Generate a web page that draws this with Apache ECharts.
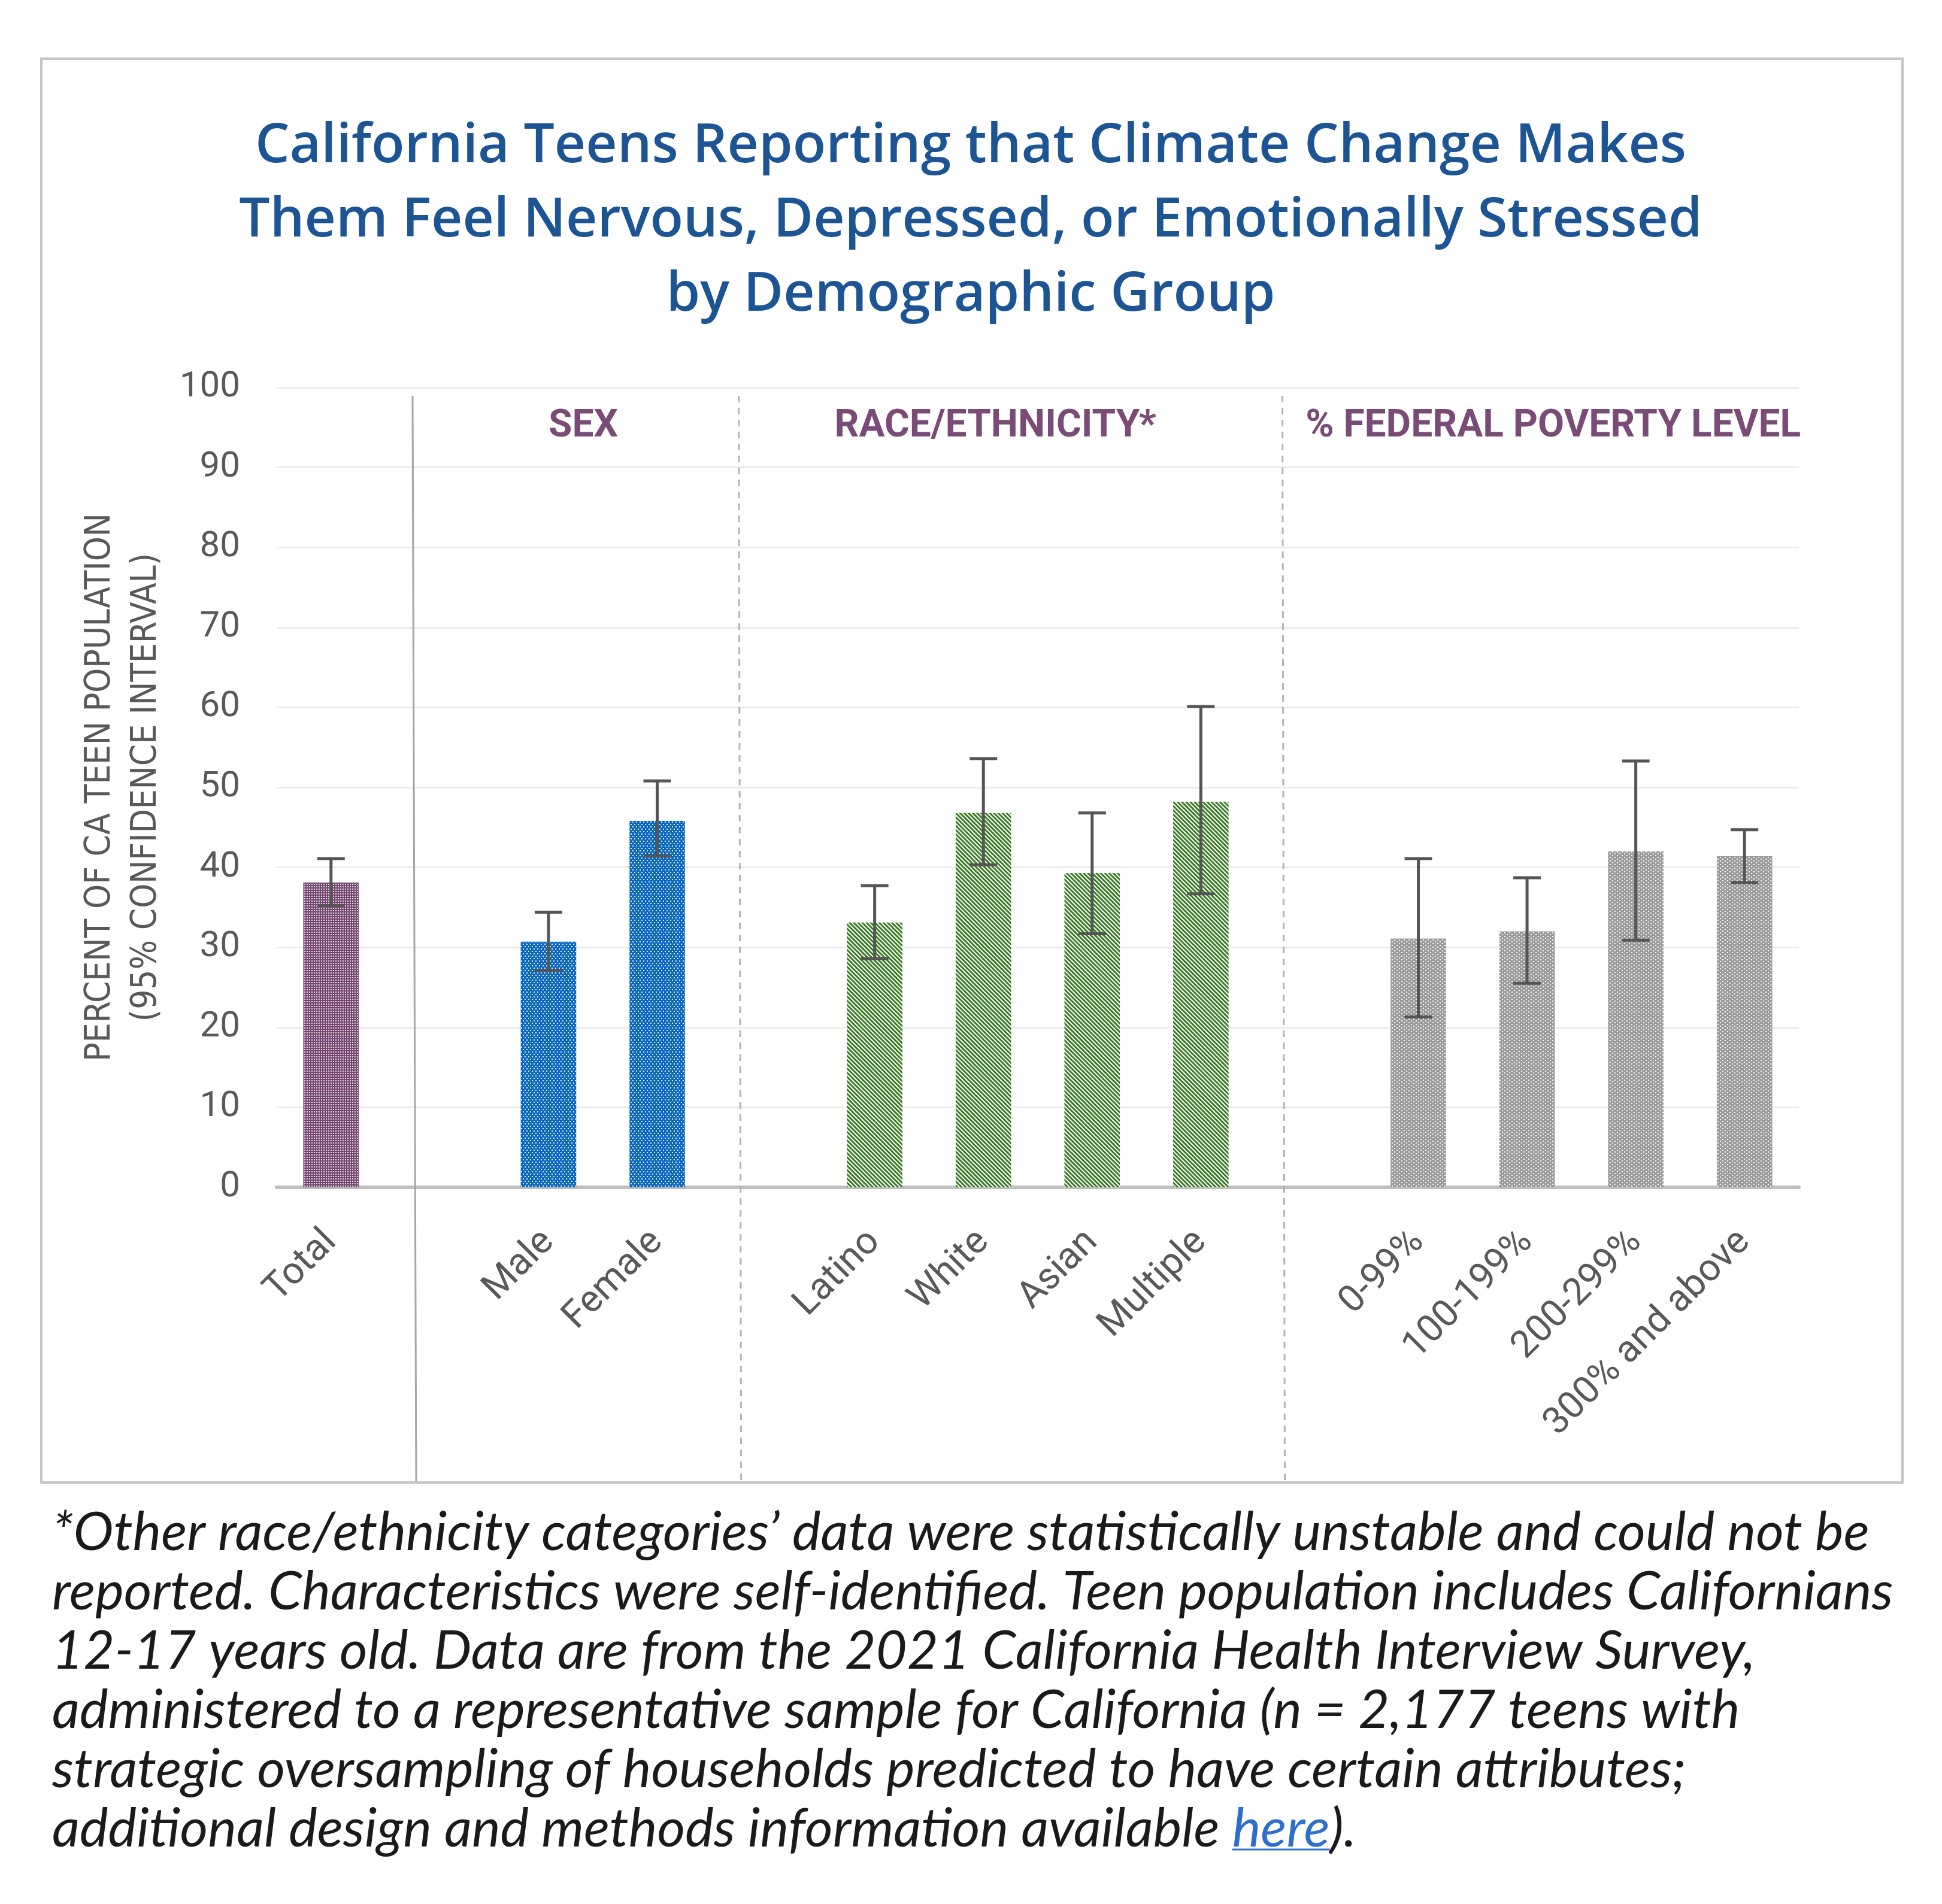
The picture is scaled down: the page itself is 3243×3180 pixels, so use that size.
<!DOCTYPE html>
<html>
<head>
    <meta charset="utf-8">
    <title>California Teens Reporting that Climate Change Makes Them Feel Nervous</title>
    <script src="https://cdn.jsdelivr.net/npm/echarts@6/dist/echarts.min.js"></script>
    <style>
        html, body { margin: 0; padding: 0; background: #fff; }
        #main { width: 3243px; height: 3180px; }
    </style>
</head>
<body>
<div id="main"></div>
<script>
// ---- data ----
var categories = ['Total', ' ', 'Male', 'Female', '  ', 'Latino', 'White', 'Asian', 'Multiple', '   ',
                  '0-99%', '100-199%', '200-299%', '300% and above'];
var groups     = ['total', null, 'sex', 'sex', null, 'race', 'race', 'race', 'race', null,
                  'fpl', 'fpl', 'fpl', 'fpl'];
var values     = [38.1, null, 30.7, 45.8, null, 33.1, 46.8, 39.3, 48.2, null, 31.1, 32.0, 42.0, 41.4];
var ciLow      = [35.2, null, 27.1, 41.4, null, 28.6, 40.3, 31.7, 36.7, null, 21.3, 25.5, 30.9, 38.1];
var ciHigh     = [41.1, null, 34.4, 50.8, null, 37.7, 53.6, 46.8, 60.1, null, 41.1, 38.7, 53.3, 44.7];

// section headers (label, centre position in category units)
var sectionNames = ['SEX', 'RACE/ETHNICITY*', '% FEDERAL POVERTY LEVEL'];
var sectionPos   = [2.32, 6.11, 11.24];
// separators between sections (category units), first one solid
var separatorPos = [0.75, 3.75, 8.75];

var titleLines = [
    'California Teens Reporting that Climate Change Makes',
    'Them Feel Nervous, Depressed, or Emotionally Stressed',
    'by Demographic Group'
];
var noteLines = [
    '*Other race/ethnicity categories\u2019 data were statistically unstable and could not be',
    'reported. Characteristics were self-identified. Teen population includes Californians',
    '12-17 years old. Data are from the 2021 California Health Interview Survey,',
    'administered to a representative sample for California (n = 2,177 teens with',
    'strategic oversampling of households predicted to have certain attributes;',
    'additional design and methods information available '
];

// ---- styles ----
var fills = {
    total: { color: '#74466f', decal: { symbol: 'rect', symbolSize: 1, color: 'rgba(255,255,255,0.8)',
                                        dashArrayX: [2, 2], dashArrayY: [2, 2] } },
    sex:   { color: '#0b68bc', decal: { symbol: 'rect', symbolSize: 1, color: 'rgba(255,255,255,0.9)',
                                        dashArrayX: [[2, 4], [0, 3, 2, 1]], dashArrayY: [2, 2] } },
    race:  { color: '#ffffff', decal: { symbol: 'rect', symbolSize: 1, color: '#3a7a25',
                                        dashArrayX: [1, 0], dashArrayY: [3, 2], rotation: Math.PI / 4 } },
    fpl:   { color: '#9b9b9b', decal: { symbol: 'rect', symbolSize: 1, color: 'rgba(255,255,255,0.95)',
                                        dashArrayX: [[2, 6], [0, 4, 2, 2]], dashArrayY: [2, 1] } }
};

var barData = values.map(function (v, i) {
    if (v === null) return '-';
    return { value: v, itemStyle: { color: fills[groups[i]].color, decal: fills[groups[i]].decal } };
});
var errData = [];
values.forEach(function (v, i) {
    if (v !== null) errData.push([i, ciLow[i], ciHigh[i]]);
});

// font sizes fitted so the text lines are as wide as in the original
var ctx = document.createElement('canvas').getContext('2d');
function fitSize(font, text, target) {
    ctx.font = font.replace('SIZE', '100px');
    return Math.round(100 * target / ctx.measureText(text).width);
}
var titleFamily = '"Open Sans", Lato, sans-serif';
var titleSize = fitSize('600 SIZE ' + titleFamily, titleLines[1], 2435);
var noteFamily = 'Lato, sans-serif';
var noteSize = fitSize('italic SIZE ' + noteFamily, noteLines[0], 3031);

var myChart = echarts.init(document.getElementById('main'));

var option = {
    backgroundColor: '#ffffff',
    animation: false,
    grid: { left: 462, right: 239, top: 647, bottom: 1197, containLabel: false },
    xAxis: {
        type: 'category',
        data: categories,
        axisTick: { show: false },
        axisLine: { lineStyle: { color: '#bfbfbf', width: 6 } },
        axisLabel: {
            interval: 0,
            rotate: 45,
            margin: 82,
            fontSize: 63,
            fontFamily: 'Roboto, sans-serif',
            color: '#595959'
        }
    },
    yAxis: {
        type: 'value',
        min: 0,
        max: 100,
        interval: 10,
        name: 'PERCENT OF CA TEEN POPULATION\n(95% CONFIDENCE INTERVAL)',
        nameLocation: 'middle',
        nameGap: 179,
        nameTextStyle: {
            fontFamily: '"Liberation Sans Narrow", "DejaVu Sans Condensed", sans-serif',
            fontSize: 58,
            lineHeight: 77,
            color: '#595959'
        },
        axisLine: { show: false },
        axisTick: { show: false },
        axisLabel: {
            margin: 61,
            fontSize: 60,
            fontFamily: 'Roboto, sans-serif',
            color: '#595959'
        },
        splitLine: { lineStyle: { color: '#ececec', width: 3 } }
    },
    series: [
        {
            type: 'bar',
            data: barData,
            barWidth: '51%',
            z: 2
        },
        {
            type: 'custom',
            data: errData,
            z: 5,
            renderItem: function (params, api) {
                var lo = api.coord([api.value(0), api.value(1)]);
                var hi = api.coord([api.value(0), api.value(2)]);
                var half = 23;
                var st = { stroke: '#555555', lineWidth: 5 };
                return {
                    type: 'group',
                    children: [
                        { type: 'line', shape: { x1: hi[0], y1: hi[1], x2: lo[0], y2: lo[1] }, style: st },
                        { type: 'line', shape: { x1: hi[0] - half, y1: hi[1], x2: hi[0] + half, y2: hi[1] }, style: st },
                        { type: 'line', shape: { x1: lo[0] - half, y1: lo[1], x2: lo[0] + half, y2: lo[1] }, style: st }
                    ]
                };
            }
        }
    ]
};
myChart.setOption(option);

// ---- overlay: frame, title, section separators/headers, footnote ----
var x0 = myChart.convertToPixel({ xAxisIndex: 0 }, 0);
var x1 = myChart.convertToPixel({ xAxisIndex: 0 }, 1);
function catX(p) { return x0 + p * (x1 - x0); }

var graphics = [];
graphics.push({
    type: 'rect', z: 0, silent: true,
    shape: { x: 69, y: 98, width: 3108, height: 2378 },
    style: { fill: 'none', stroke: '#c4c4c4', lineWidth: 4 }
});
// title, middle of the first line at y=245
graphics.push({
    type: 'text', silent: true,
    x: 1621, y: 245 - 62,
    style: {
        text: titleLines.join('\n'),
        align: 'center',
        verticalAlign: 'top',
        font: '600 ' + titleSize + 'px ' + titleFamily,
        lineHeight: 124,
        fill: '#1d5494'
    }
});
separatorPos.forEach(function (p, i) {
    var x = catX(p);
    graphics.push({
        type: 'line', z: 10, silent: true,
        shape: { x1: x, y1: 661, x2: x + (i === 0 ? 6 : 4), y2: 2474 },
        style: { stroke: i === 0 ? '#a6a6a6' : '#b3b3b3', lineWidth: 3, lineDash: i === 0 ? null : [11, 9] }
    });
});
sectionNames.forEach(function (name, i) {
    graphics.push({
        type: 'text', z: 10, silent: true,
        x: catX(sectionPos[i]), y: 713,
        style: {
            text: name,
            align: 'center',
            verticalAlign: 'middle',
            fontFamily: 'Roboto, sans-serif',
            fontWeight: 'bold',
            fontSize: 64,
            fill: '#7b4b78'
        }
    });
});

var noteFont = 'italic ' + noteSize + 'px ' + noteFamily;
var noteTop = 2510, noteLH = 99;
graphics.push({
    type: 'text', silent: true,
    x: 87, y: noteTop,
    style: {
        text: noteLines.join('\n'),
        font: noteFont,
        lineHeight: noteLH,
        fill: '#1a1a1a',
        verticalAlign: 'top'
    }
});
// the "here" link on the last line
ctx.font = noteFont;
var lastY = noteTop + noteLH * (noteLines.length - 1);
var hereX = 87 + ctx.measureText(noteLines[noteLines.length - 1]).width;
var hereW = ctx.measureText('here').width;
graphics.push({
    type: 'text', silent: true, x: hereX, y: lastY,
    style: { text: 'here', font: noteFont, lineHeight: noteLH, fill: '#2f6fcb', verticalAlign: 'top' }
});
graphics.push({
    type: 'line', silent: true,
    shape: { x1: hereX, y1: lastY + 84, x2: hereX + hereW, y2: lastY + 84 },
    style: { stroke: '#2f6fcb', lineWidth: 3 }
});
graphics.push({
    type: 'text', silent: true, x: hereX + hereW, y: lastY,
    style: { text: ').', font: noteFont, lineHeight: noteLH, fill: '#1a1a1a', verticalAlign: 'top' }
});

myChart.setOption({ graphic: graphics });
</script>
</body>
</html>
